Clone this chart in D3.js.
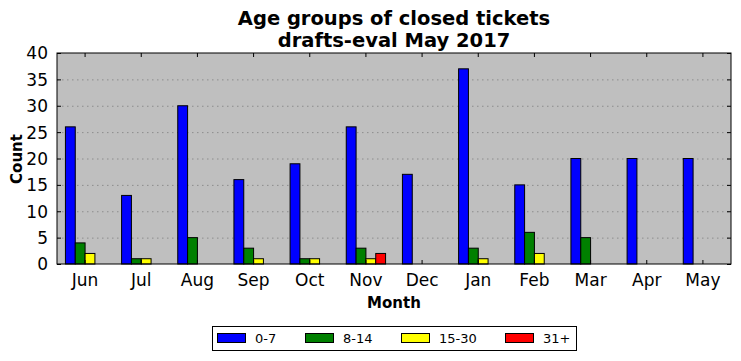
<!DOCTYPE html>
<html><head><meta charset="utf-8">
<script src="https://cdn.jsdelivr.net/npm/d3@7"></script>
<style>body{margin:0;background:#fff}svg{display:block}text{font-family:"DejaVu Sans",sans-serif}</style>
</head><body><svg id="c" width="741" height="361"></svg>
<script>
const months = ["Jun","Jul","Aug","Sep","Oct","Nov","Dec","Jan","Feb","Mar","Apr","May"];
const seriesNames = ["0-7","8-14","15-30","31+"];
const seriesColors = ["#0000ff","#008000","#ffff00","#ff0000"];
const s0_7   = [26,13,30,16,19,26,17,37,15,20,20,20];
const s8_14  = [4,1,5,3,1,3,0,3,6,5,0,0];
const s15_30 = [2,1,0,1,1,1,0,1,2,0,0,0];
const s31p   = [0,0,0,0,0,2,0,0,0,0,0,0];
const yTicks = [0,5,10,15,20,25,30,35,40];
const allSeries = [s0_7,s8_14,s15_30,s31p];

const svg = d3.select("#c");
const L=57,R=731,T=53,B=264;
const x = d3.scaleBand().domain(months).range([L,R]).paddingInner(0).paddingOuter(0);
const y = d3.scaleLinear().domain([0,40]).range([B,T]);
const groupW = x.bandwidth()*0.7;
const xs = d3.scaleBand().domain(seriesNames).range([0,groupW]);

svg.append("rect").attr("x",L).attr("y",T).attr("width",R-L).attr("height",B-T).attr("fill","#bfbfbf");

// grid
svg.append("g").selectAll("line").data(yTicks.slice(1,-1)).join("line")
  .attr("x1",L).attr("x2",R).attr("y1",d=>y(d)+0.5).attr("y2",d=>y(d)+0.5)
  .attr("stroke","#8c8c8c").attr("stroke-width",1).attr("stroke-dasharray","1.5,3.5");

// bars
allSeries.forEach((vals,si)=>{
  svg.append("g").selectAll("rect").data(vals).join("rect")
    .attr("x",(d,i)=>x(months[i])+x.bandwidth()/2-groupW/2+xs(seriesNames[si]))
    .attr("width",xs.bandwidth())
    .attr("y",d=>y(d)).attr("height",d=>B-y(d))
    .attr("fill",seriesColors[si]).attr("stroke","#000").attr("stroke-width",1);
});

// axes frame
svg.append("rect").attr("x",L).attr("y",T).attr("width",R-L).attr("height",B-T)
  .attr("fill","none").attr("stroke","#000").attr("stroke-width",1);

// y axis (ticks inside)
const yAxis = d3.axisLeft(y).tickValues(yTicks).tickSize(-4).tickPadding(9).tickFormat(d3.format("d"));
const gy = svg.append("g").attr("transform",`translate(${L},0)`).call(yAxis);
gy.select(".domain").remove();
gy.selectAll("text").attr("font-size",17).attr("fill","#000").attr("dy","0.35em");
const yAxisR = d3.axisRight(y).tickValues(yTicks).tickSize(-4).tickFormat("");
const gyr = svg.append("g").attr("transform",`translate(${R},0)`).call(yAxisR);
gyr.select(".domain").remove();

// x axis
const xAxis = d3.axisBottom(x).tickSize(-4).tickPadding(10);
const gx = svg.append("g").attr("transform",`translate(0,${B})`).call(xAxis);
gx.select(".domain").remove();
gx.selectAll("text").attr("font-size",17).attr("fill","#000");
const xAxisT = d3.axisTop(x).tickSize(-4).tickFormat("");
const gxt = svg.append("g").attr("transform",`translate(0,${T})`).call(xAxisT);
gxt.select(".domain").remove();

// titles
svg.append("text").attr("x",394).attr("y",25).attr("text-anchor","middle").attr("font-size",19.5).attr("font-weight","bold").text("Age groups of closed tickets");
svg.append("text").attr("x",394).attr("y",47).attr("text-anchor","middle").attr("font-size",19.5).attr("font-weight","bold").text("drafts-eval May 2017");
svg.append("text").attr("x",394).attr("y",308).attr("text-anchor","middle").attr("font-size",15).attr("font-weight","bold").text("Month");
svg.append("text").attr("transform","translate(22,159) rotate(-90)").attr("text-anchor","middle").attr("font-size",15).attr("font-weight","bold").text("Count");

// legend
const lg = svg.append("g");
lg.append("rect").attr("x",212.5).attr("y",326.5).attr("width",364).attr("height",24).attr("fill","#fff").attr("stroke","#000");
const legX = [217,305,401,505];
seriesNames.forEach((n,i)=>{
  lg.append("rect").attr("x",legX[i]+0.5).attr("y",333.5).attr("width",28).attr("height",9).attr("fill",seriesColors[i]).attr("stroke","#000");
  lg.append("text").attr("x",legX[i]+38).attr("y",343).attr("font-size",13).text(n);
});
</script></body></html>
